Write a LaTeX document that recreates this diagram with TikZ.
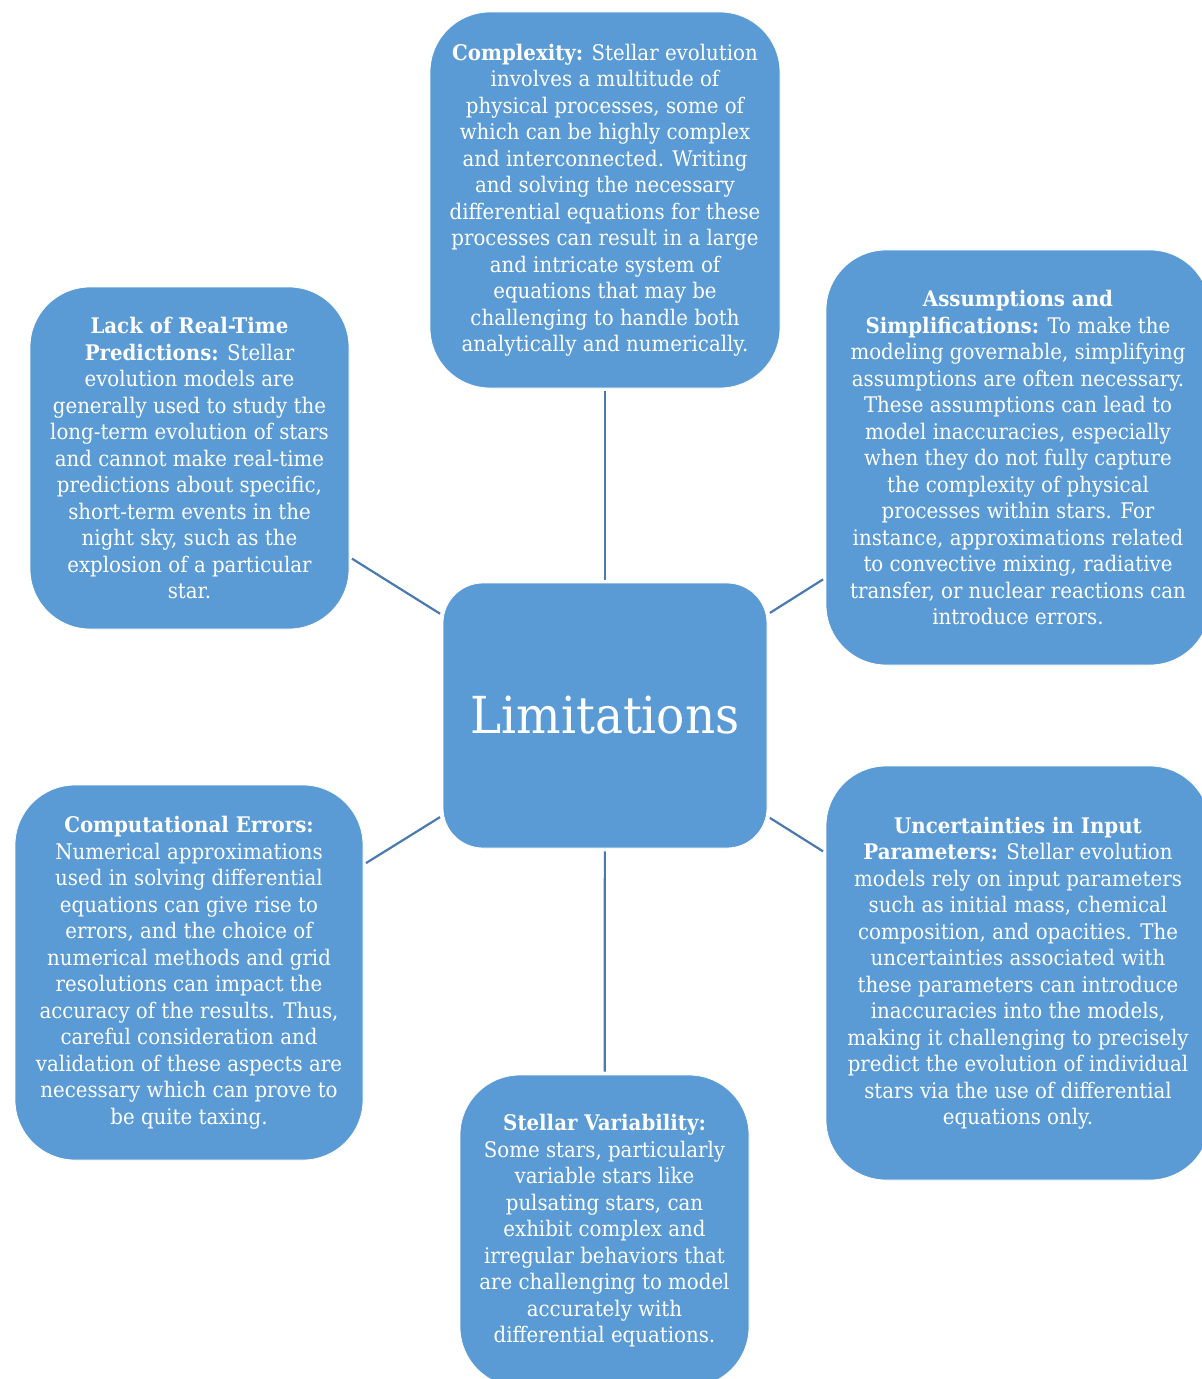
\documentclass[tikz,border=0pt]{standalone}
\usepackage{fontspec}
\setmainfont{DejaVu Serif}[FakeStretch=0.92]
\definecolor{boxblue}{HTML}{5B9BD5}
\definecolor{linkblue}{HTML}{4A7AB0}
\tikzset{
  topic/.style={fill=boxblue, draw=white, line width=0.8pt, rounded corners=60pt,
    text=white, align=center, inner sep=0pt, font=\fontsize{21.5}{26.5}\selectfont},
  link/.style={draw=linkblue, line width=2.2pt, shorten <=3pt, shorten >=3pt}
}
\begin{document}
\begin{tikzpicture}[x=1pt,y=-1pt]
  \useasboundingbox (0,0) rectangle (1202,1379);
  \clip (0,0) rectangle (1202,1379);
  \fill[white] (0,0) rectangle (1202,1379);

  \node[topic, rounded corners=40pt, minimum width=324pt, minimum height=265pt,
    font=\fontsize{51}{56}\selectfont] (lim) at (605,715.5) {Limitations};

  \node[topic, minimum width=350pt, minimum height=376pt] (cmplx) at (605,200) {%
    \textbf{Complexity:} Stellar evolution\\ involves a multitude of\\
    physical processes, some of\\ which can be highly complex\\
    and interconnected. Writing\\ and solving the necessary\\
    differential equations for these\\ processes can result in a large\\
    and intricate system of\\ equations that may be\\
    challenging to handle both\\ analytically and numerically.};

  \node[topic, minimum width=319pt, minimum height=342pt] (lack) at (189.5,458) {%
    \textbf{Lack of Real-Time}\\ \textbf{Predictions:} Stellar\\
    evolution models are\\ generally used to study the\\
    long-term evolution of stars\\ and cannot make real-time\\
    predictions about specific,\\ short-term events in the\\
    night sky, such as the\\ explosion of a particular\\ star.};

  \node[topic, minimum width=384pt, minimum height=415pt] (assum) at (1018,457.5) {%
    \textbf{Assumptions and}\\ \textbf{Simplifications:} To make the\\
    modeling governable, simplifying\\ assumptions are often necessary.\\
    These assumptions can lead to\\ model inaccuracies, especially\\
    when they do not fully capture\\ the complexity of physical\\
    processes within stars. For\\ instance, approximations related\\
    to convective mixing, radiative\\ transfer, or nuclear reactions can\\
    introduce errors.};

  \node[topic, minimum width=348pt, minimum height=375pt] (comp) at (189,972.5) {%
    \textbf{Computational Errors:}\\ Numerical approximations\\
    used in solving differential\\ equations can give rise to\\
    errors, and the choice of\\ numerical methods and grid\\
    resolutions can impact the\\ accuracy of the results. Thus,\\
    careful consideration and\\ validation of these aspects are\\
    necessary which can prove to\\ be quite taxing.};

  \node[topic, minimum width=384pt, minimum height=414pt] (uncert) at (1018,973) {%
    \textbf{Uncertainties in Input}\\ \textbf{Parameters:} Stellar evolution\\
    models rely on input parameters\\ such as initial mass, chemical\\
    composition, and opacities. The\\ uncertainties associated with\\
    these parameters can introduce\\ inaccuracies into the models,\\
    making it challenging to precisely\\ predict the evolution of individual\\
    stars via the use of differential\\ equations only.};

  \node[topic, minimum width=289pt, minimum height=312pt] (var) at (604.5,1231) {%
    \textbf{Stellar Variability:}\\ Some stars, particularly\\
    variable stars like\\ pulsating stars, can\\
    exhibit complex and\\ irregular behaviors that\\
    are challenging to model\\ accurately with\\ differential equations.};

  \draw[link] (cmplx) -- (lim);
  \draw[link] (lack) -- (lim);
  \draw[link] (assum) -- (lim);
  \draw[link] (comp) -- (lim);
  \draw[link] (uncert) -- (lim);
  \draw[link] (var) -- (lim);
\end{tikzpicture}
\end{document}
